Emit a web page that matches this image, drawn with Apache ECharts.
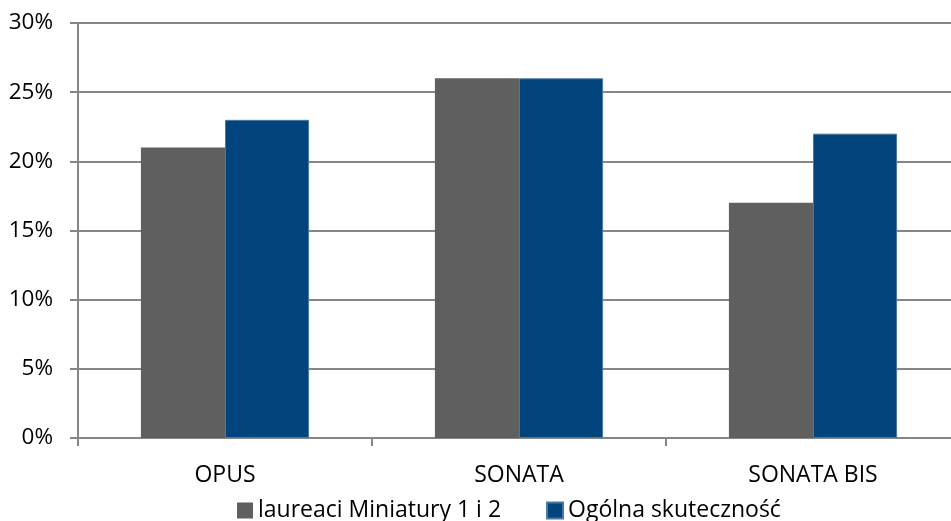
<!DOCTYPE html>
<html><head><meta charset="utf-8">
<script src="https://cdn.jsdelivr.net/npm/echarts@6/dist/echarts.min.js"></script>
<style>html,body{margin:0;padding:0;background:#fff}#c{width:951px;height:521px}</style>
</head><body><div id="c"></div>
<script>
var categories = ["OPUS", "SONATA", "SONATA BIS"];
var seriesNames = ["laureaci Miniatury 1 i 2", "Ogólna skuteczność"];
var laureaci = [21, 26, 17];
var ogolna = [23, 26, 22];
var font = "'Open Sans', 'Noto Sans', sans-serif";
var chart = echarts.init(document.getElementById('c'));
chart.setOption({
  animation: false,
  textStyle: {fontFamily: font},
  grid: {left: 78, top: 23, width: 882, bottom: 83, containLabel: false, outerBoundsMode: 'none'},
  legend: {
    top: 494, left: 232, itemWidth: 16, itemHeight: 16, itemGap: 45,
    icon: 'rect',
    textStyle: {fontFamily: font, fontSize: 23, color: '#000'},
    data: seriesNames
  },
  xAxis: {
    type: 'category', data: categories,
    axisLine: {lineStyle: {color: '#868686', width: 2}},
    axisTick: {show: true, length: 8, lineStyle: {color: '#868686', width: 2}},
    axisLabel: {fontFamily: font, fontSize: 23, color: '#000', margin: 26}
  },
  yAxis: {
    type: 'value', min: 0, max: 30, interval: 5,
    axisLine: {show: true, lineStyle: {color: '#868686', width: 2}},
    axisTick: {show: true, length: 8, lineStyle: {color: '#868686', width: 2}},
    splitLine: {lineStyle: {color: '#868686', width: 2}},
    axisLabel: {fontFamily: font, fontSize: 22.5, color: '#000', margin: 25, formatter: '{value}%'}
  },
  series: [
    {name: seriesNames[0], type: 'bar', data: laureaci, barGap: '0%', barCategoryGap: '42.8%',
     itemStyle: {color: '#5f5f5f'}},
    {name: seriesNames[1], type: 'bar', data: ogolna, barGap: '0%', barCategoryGap: '42.8%',
     itemStyle: {color: '#01457c', borderColor: '#4a7aa3', borderWidth: 1}}
  ]
});
</script></body></html>
